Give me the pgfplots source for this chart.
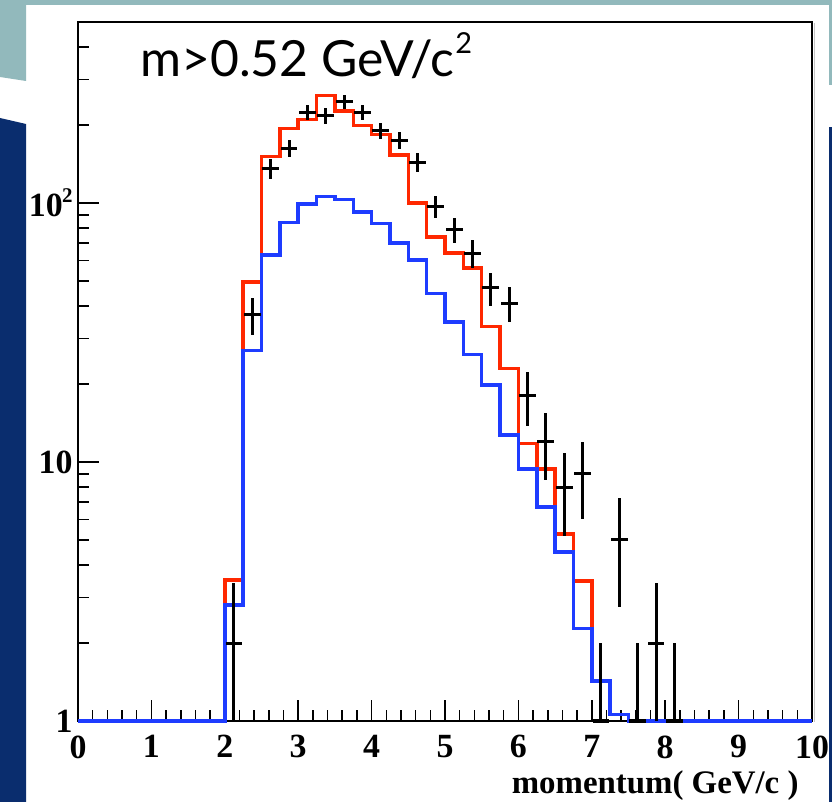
\documentclass[border=0pt]{standalone}
\usepackage{pgfplots}
\pgfplotsset{compat=1.18}
\usepackage{pgfplotstable}
\usepackage{fontspec}
\setmainfont{Liberation Serif}
\newfontfamily\titlefont{Lato}
\definecolor{rootred}{RGB}{255,40,0}
\definecolor{rootblue}{RGB}{30,60,255}
\definecolor{slideteal}{RGB}{146,185,188}
\definecolor{slidenavy}{RGB}{10,45,110}

\pgfplotstableread{
x y
0.00 1
2.00 3.5
2.25 49.5
2.50 151
2.75 194
3.00 210
3.25 260
3.50 227
3.75 199
4.00 184
4.25 153
4.50 100
4.75 74
5.00 64
5.25 56
5.50 33.3
5.75 23
6.00 11.8
6.25 9.4
6.50 5.27
6.75 3.47
7.00 1.43
7.25 1.06
7.50 1
10.00 1
}\redhist

\pgfplotstableread{
x y
0.00 1
2.00 2.8
2.25 27
2.50 63
2.75 84
3.00 99
3.25 106
3.50 103
3.75 92.5
4.00 83.5
4.25 70
4.50 60.3
4.75 44.8
5.00 34.8
5.25 26
5.50 19.8
5.75 12.7
6.00 9.4
6.25 6.7
6.50 4.5
6.75 2.28
7.00 1.43
7.25 1.06
7.50 1
10.00 1
}\bluehist

\pgfplotstableread{
x y ex ep em
2.125 2 0.115 1.414 1
2.375 37 0.115 6.08 6.08
2.625 136 0.115 11.66 11.66
2.875 163 0.115 12.77 12.77
3.125 224 0.115 14.97 14.97
3.375 217 0.115 14.73 14.73
3.625 246 0.115 15.68 15.68
3.875 224 0.115 14.97 14.97
4.125 190 0.115 13.78 13.78
4.375 175 0.115 13.23 13.23
4.625 144 0.115 12.00 12.00
4.875 97 0.115 9.85 9.85
5.125 79 0.115 8.89 8.89
5.375 64 0.115 8.00 8.00
5.625 47 0.115 6.86 6.86
5.875 41 0.115 6.40 6.40
6.125 18 0.115 4.24 4.24
6.375 12 0.115 3.46 3.46
6.625 8 0.115 2.83 2.83
6.875 9 0.115 3.00 3.00
7.125 1 0.115 1 0
7.375 5 0.115 2.236 2.236
7.625 1 0.115 1 0
7.875 2 0.115 1.414 1
8.125 1 0.115 1 0
}\datapts

\begin{document}
\begin{tikzpicture}
\useasboundingbox (0bp,0bp) rectangle (832bp,802bp);
\fill[white] (0bp,0bp) rectangle (832bp,802bp);
\fill[slideteal] (0bp,797bp) rectangle (832bp,802bp);
\fill[slideteal] (0bp,802bp) -- (26bp,802bp) -- (26bp,721bp) -- (0bp,725bp) -- cycle;
\fill[slidenavy] (0bp,684bp) -- (26bp,678bp) -- (26bp,0bp) -- (0bp,0bp) -- cycle;
\fill[slideteal] (829bp,717bp) rectangle (832bp,802bp);
\fill[slidenavy] (829bp,0bp) rectangle (832bp,675bp);
\draw[gray!45, line width=1.5bp] (814.5bp,80bp) -- (814.5bp,779bp);
\begin{axis}[
  at={(78bp,81bp)}, anchor=south west,
  scale only axis, width=734bp, height=699bp,
  xmin=0, xmax=10, ymin=1, ymax=500, ymode=log,
  clip=false,
  axis line style={black, line width=1.5bp},
  tick align=inside,
  xtick pos=left, ytick pos=left,
  xtick={0,1,...,10}, minor x tick num=4,
  xticklabels={0,1,2,3,4,5,6,7,8,9,10},
  ytick={1,10,100},
  yticklabels={1,10,{10\kern-0.02em\raisebox{0.4em}{\fontsize{21}{21}\selectfont 2}}},
  minor ytick={2,3,4,5,6,7,8,9,20,30,40,50,60,70,80,90,200,300,400,500},
  major tick length=21bp, minor tick length=11bp,
  every tick/.style={black, line width=1.5bp},
  tick label style={font=\fontsize{34}{34}\selectfont\bfseries},
  xticklabel style={yshift=-11bp},
  yticklabel style={xshift=-2bp},
  xlabel={momentum( GeV/c )},
  every axis x label/.style={at={(axis description cs:1,0)}, anchor=base east,
    xshift=-10bp, yshift=-72bp, font=\fontsize{33}{33}\selectfont\bfseries},
]
\addplot[const plot, rootred, line width=3.5bp] table[x=x,y=y] {\redhist};
\addplot[const plot, rootblue, line width=3.5bp] table[x=x,y=y] {\bluehist};
\addplot[draw=none, mark=none,
  error bars/.cd, x dir=both, x explicit, y dir=both, y explicit,
  error mark=none,
  error bar style={draw=black, solid, line width=3bp}]
  table[x=x, y=y, x error=ex, y error plus=ep, y error minus=em] {\datapts};
\node[anchor=base west, inner sep=0pt, font=\titlefont\fontsize{50}{50}\selectfont]
  at (rel axis cs:0.0845,0.9227) {m>0.52 GeV/c\kern0.02em\raisebox{0.45em}{\fontsize{29}{29}\selectfont 2}};
\end{axis}
\end{tikzpicture}
\end{document}
